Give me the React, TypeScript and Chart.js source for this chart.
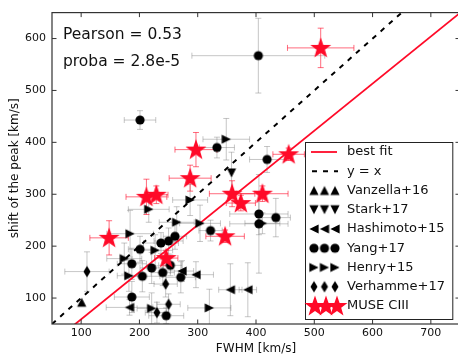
import React, { useEffect, useRef } from "react";
import { Chart, registerables } from "chart.js";

Chart.register(...registerables);

const FONT = "'DejaVu Sans', 'Liberation Sans', sans-serif";
const RED = "#ff0a28";
const TEXT = "#111111";

// axes
const X_MIN = 50;
const X_MAX = 750;
const Y_MIN = 50;
const Y_MAX = 650;
const xTicks = [100, 200, 300, 400, 500, 600, 700];
const yTicks = [100, 200, 300, 400, 500, 600];

// reference lines
const bestFitX = [50, 750];
const bestFitY = [13.7, 649.3];
const identityX = [50, 750];
const identityY = [50, 750];

// Vanzella+16
const vanzellaX = [101];
const vanzellaY = [92];
const vanzellaXErr = [0];
const vanzellaYErr = [0];

// Stark+17
const starkX = [358];
const starkY = [341];
const starkXErr = [0];
const starkYErr = [40];

// Hashimoto+15
const hashimotoX = [273, 297, 356, 386, 183];
const hashimotoY = [152, 145, 116, 116, 82];
const hashimotoXErr = [20, 30, 20, 15, 40];
const hashimotoYErr = [20, 25, 50, 52, 15];

// Yang+17
const yangX = [201, 404, 333, 419, 405, 405, 434, 322, 261, 250, 237, 201, 187, 221, 240, 253, 205, 271, 187, 246];
const yangY = [443, 567, 390, 367, 262, 243, 255, 230, 219, 210, 206, 194, 166, 158, 149, 163, 142, 140, 102, 66];
const yangXErr = [27, 114, 30, 30, 50, 50, 25, 20, 20, 25, 30, 20, 25, 20, 20, 20, 30, 25, 30, 30];
const yangYErr = [18, 72, 20, 25, 40, 95, 37, 20, 25, 25, 20, 25, 30, 30, 25, 20, 30, 30, 30, 15];

// Henry+15
const henryX = [349, 216, 184, 264, 287, 304, 227, 174, 182, 221, 320, 411];
const henryY = [406, 271, 224, 246, 289, 244, 192, 176, 143, 80, 81, 244];
const henryXErr = [40, 35, 40, 30, 30, 35, 30, 30, 20, 25, 37, 30];
const henryYErr = [40, 25, 45, 30, 30, 35, 30, 30, 30, 30, 36, 20];

// Verhamme+17
const verhammeX = [110, 245, 250, 230];
const verhammeY = [151, 127, 88, 72];
const verhammeXErr = [38, 20, 20, 20];
const verhammeYErr = [38, 25, 20, 20];

// MUSE CIII
const museX = [511, 297, 287, 212, 229, 359, 374, 411, 456, 148, 347, 246];
const museY = [582, 386, 331, 295, 299, 301, 283, 301, 377, 216, 219, 177];
const museXErr = [57, 36, 36, 35, 20, 39, 25, 44, 27, 33, 33, 20];
const museYErr = [38, 33, 25, 34, 17, 25, 15, 15, 12, 33, 12, 15];

const pearsonText = "Pearson = 0.53";
const probaText = "proba = 2.8e-5";

type Kind = "up" | "down" | "left" | "right" | "circle" | "diamond" | "star";

interface Series {
  label: string;
  kind: Kind;
  color: string;
  errColor: string;
  x: number[];
  y: number[];
  xe: number[];
  ye: number[];
}

const GREY_ERR = "rgba(120,120,120,0.42)";
const RED_ERR = "rgba(255,10,40,0.6)";

const SERIES: Series[] = [
  { label: "Vanzella+16", kind: "up", color: "#000", errColor: GREY_ERR, x: vanzellaX, y: vanzellaY, xe: vanzellaXErr, ye: vanzellaYErr },
  { label: "Stark+17", kind: "down", color: "#000", errColor: GREY_ERR, x: starkX, y: starkY, xe: starkXErr, ye: starkYErr },
  { label: "Hashimoto+15", kind: "left", color: "#000", errColor: GREY_ERR, x: hashimotoX, y: hashimotoY, xe: hashimotoXErr, ye: hashimotoYErr },
  { label: "Yang+17", kind: "circle", color: "#000", errColor: GREY_ERR, x: yangX, y: yangY, xe: yangXErr, ye: yangYErr },
  { label: "Henry+15", kind: "right", color: "#000", errColor: GREY_ERR, x: henryX, y: henryY, xe: henryXErr, ye: henryYErr },
  { label: "Verhamme+17", kind: "diamond", color: "#000", errColor: GREY_ERR, x: verhammeX, y: verhammeY, xe: verhammeXErr, ye: verhammeYErr },
  { label: "MUSE CIII", kind: "star", color: RED, errColor: RED_ERR, x: museX, y: museY, xe: museXErr, ye: museYErr },
];

function makeMarker(kind: Kind, color: string): HTMLCanvasElement {
  const size = kind === "star" ? 26 : 14;
  const c = document.createElement("canvas");
  c.width = size;
  c.height = size;
  const g = c.getContext("2d")!;
  const m = size / 2;
  const h = 4.6;
  g.fillStyle = color;
  g.beginPath();
  switch (kind) {
    case "circle":
      g.arc(m, m, 4.6, 0, Math.PI * 2);
      break;
    case "up":
      g.moveTo(m, m - h); g.lineTo(m + h, m + h); g.lineTo(m - h, m + h);
      break;
    case "down":
      g.moveTo(m, m + h); g.lineTo(m + h, m - h); g.lineTo(m - h, m - h);
      break;
    case "left":
      g.moveTo(m - h, m); g.lineTo(m + h, m - h); g.lineTo(m + h, m + h);
      break;
    case "right":
      g.moveTo(m + h, m); g.lineTo(m - h, m - h); g.lineTo(m - h, m + h);
      break;
    case "diamond":
      g.moveTo(m, m - 5.8); g.lineTo(m + 3.5, m); g.lineTo(m, m + 5.8); g.lineTo(m - 3.5, m);
      break;
    case "star": {
      const outer = 11;
      const inner = outer * 0.4;
      for (let i = 0; i < 10; i++) {
        const r = i % 2 === 0 ? outer : inner;
        const a = -Math.PI / 2 + (i * Math.PI) / 5;
        const px = m + r * Math.cos(a);
        const py = m + 0.5 + r * Math.sin(a);
        if (i === 0) g.moveTo(px, py); else g.lineTo(px, py);
      }
      break;
    }
  }
  g.closePath();
  g.fill();
  return c;
}

export default function App() {
  const ref = useRef<HTMLCanvasElement>(null);

  useEffect(() => {
    const canvas = ref.current;
    if (!canvas) return;
    const markers: Record<string, HTMLCanvasElement> = {};
    SERIES.forEach((s) => { markers[s.label] = makeMarker(s.kind, s.color); });

    const errorBars = {
      id: "errorBars",
      beforeDatasetsDraw(chart: any) {
        const { ctx, chartArea: a, scales } = chart;
        const xs = scales.x;
        const ys = scales.y;
        ctx.save();
        ctx.beginPath();
        ctx.rect(a.left, a.top, a.right - a.left, a.bottom - a.top);
        ctx.clip();
        ctx.lineWidth = 1;
        const cap = 3;
        const drawOrder = [...SERIES];
        for (const s of drawOrder) {
          ctx.strokeStyle = s.errColor;
          for (let i = 0; i < s.x.length; i++) {
            const px = xs.getPixelForValue(s.x[i]);
            const py = ys.getPixelForValue(s.y[i]);
            ctx.beginPath();
            if (s.xe[i] > 0) {
              const x0 = xs.getPixelForValue(s.x[i] - s.xe[i]);
              const x1 = xs.getPixelForValue(s.x[i] + s.xe[i]);
              ctx.moveTo(x0, py); ctx.lineTo(x1, py);
              ctx.moveTo(x0, py - cap); ctx.lineTo(x0, py + cap);
              ctx.moveTo(x1, py - cap); ctx.lineTo(x1, py + cap);
            }
            if (s.ye[i] > 0) {
              const y0 = ys.getPixelForValue(s.y[i] - s.ye[i]);
              const y1 = ys.getPixelForValue(s.y[i] + s.ye[i]);
              ctx.moveTo(px, y0); ctx.lineTo(px, y1);
              ctx.moveTo(px - cap, y0); ctx.lineTo(px + cap, y0);
              ctx.moveTo(px - cap, y1); ctx.lineTo(px + cap, y1);
            }
            ctx.stroke();
          }
        }
        ctx.restore();
      },
    };

    const decorations = {
      id: "decorations",
      afterDraw(chart: any) {
        const { ctx, chartArea: a, scales } = chart;
        const xs = scales.x;
        const ys = scales.y;
        ctx.save();
        // frame
        ctx.strokeStyle = "#333";
        ctx.lineWidth = 1.2;
        ctx.strokeRect(a.left, a.top, a.right - a.left, a.bottom - a.top);
        // inside ticks
        ctx.lineWidth = 1;
        ctx.beginPath();
        const tl = 4.5;
        for (const v of xTicks) {
          const px = xs.getPixelForValue(v);
          ctx.moveTo(px, a.bottom); ctx.lineTo(px, a.bottom - tl);
          ctx.moveTo(px, a.top); ctx.lineTo(px, a.top + tl);
        }
        for (const v of yTicks) {
          const py = ys.getPixelForValue(v);
          ctx.moveTo(a.left, py); ctx.lineTo(a.left + tl, py);
          ctx.moveTo(a.right, py); ctx.lineTo(a.right - tl, py);
        }
        ctx.stroke();

        // statistics text
        ctx.fillStyle = TEXT;
        ctx.font = `15.5px ${FONT}`;
        ctx.textBaseline = "alphabetic";
        ctx.textAlign = "left";
        ctx.fillText(pearsonText, a.left + 11, a.top + 26);
        ctx.fillText(probaText, a.left + 11, a.top + 53);

        // legend
        const lx0 = 305;
        const ly0 = 142;
        const lx1 = 453.3;
        const ly1 = 320;
        ctx.fillStyle = "#fff";
        ctx.fillRect(lx0, ly0, lx1 - lx0, ly1 - ly0);
        ctx.strokeStyle = "#222";
        ctx.lineWidth = 1;
        ctx.strokeRect(lx0 + 0.5, ly0 + 0.5, lx1 - lx0 - 1, ly1 - ly0 - 1);
        const step = 19.25;
        const firstY = 152;
        const textX = 347;
        ctx.font = `13px ${FONT}`;
        ctx.textBaseline = "middle";
        // best fit
        ctx.strokeStyle = RED;
        ctx.lineWidth = 1.8;
        ctx.beginPath();
        ctx.moveTo(311, firstY); ctx.lineTo(337, firstY);
        ctx.stroke();
        ctx.fillStyle = TEXT;
        ctx.fillText("best fit", textX, firstY);
        // y = x
        const y2 = firstY + step;
        ctx.strokeStyle = "#000";
        ctx.lineWidth = 2;
        ctx.setLineDash([5, 6]);
        ctx.beginPath();
        ctx.moveTo(312, y2); ctx.lineTo(338, y2);
        ctx.stroke();
        ctx.setLineDash([]);
        ctx.fillText("y = x", textX, y2);
        SERIES.forEach((s, i) => {
          const yy = firstY + step * (i + 2);
          const img = markers[s.label];
          const xsPos = s.kind === "star" ? [315, 326, 337] : [314, 324.5, 335];
          for (const xx of xsPos) {
            ctx.drawImage(img, xx - img.width / 2, yy - img.height / 2);
          }
          ctx.fillStyle = TEXT;
          ctx.fillText(s.label, textX, yy);
        });
        ctx.restore();
      },
    };

    const scatterSets = [...SERIES].reverse().map((s) => ({
      label: s.label,
      data: s.x.map((x, i) => ({ x, y: s.y[i] })),
      pointStyle: markers[s.label],
      pointRadius: 5,
      showLine: false,
    }));

    const chart = new Chart(canvas, {
      type: "scatter",
      data: {
        datasets: [
          ...scatterSets,
          {
            label: "best fit",
            data: bestFitX.map((x, i) => ({ x, y: bestFitY[i] })),
            showLine: true,
            borderColor: RED,
            borderWidth: 1.8,
            pointRadius: 0,
          },
          {
            label: "y = x",
            data: identityX.map((x, i) => ({ x, y: identityY[i] })),
            showLine: true,
            borderColor: "#000",
            borderWidth: 2,
            borderDash: [5, 6],
            pointRadius: 0,
          },
        ] as any,
      },
      options: {
        animation: false,
        responsive: false,
        devicePixelRatio: 1,
        events: [],
        layout: { padding: { left: 0, right: 10, top: 8, bottom: 0 } },
        plugins: {
          legend: { display: false },
          tooltip: { enabled: false },
        },
        scales: {
          x: {
            type: "linear",
            min: X_MIN,
            max: X_MAX,
            afterBuildTicks: (s: any) => { s.ticks = xTicks.map((v) => ({ value: v })); },
            afterFit: (s: any) => { s.height = 32; },
            grid: { display: false, drawTicks: false },
            border: { display: false },
            ticks: { font: { family: FONT, size: 11 }, color: TEXT, padding: 3, maxRotation: 0, autoSkip: false },
            title: { display: true, text: "FWHM [km/s]", font: { family: FONT, size: 12 }, color: TEXT, padding: { top: 0, bottom: 0 } },
          },
          y: {
            type: "linear",
            min: Y_MIN,
            max: Y_MAX,
            afterBuildTicks: (s: any) => { s.ticks = yTicks.map((v) => ({ value: v })); },
            afterFit: (s: any) => { s.width = 52; },
            grid: { display: false, drawTicks: false },
            border: { display: false },
            ticks: { font: { family: FONT, size: 11 }, color: TEXT, padding: 6, autoSkip: false },
            title: { display: true, text: "shift of the peak [km/s]", font: { family: FONT, size: 12 }, color: TEXT, padding: { top: 8, bottom: 0 } },
          },
        },
      },
      plugins: [errorBars, decorations],
    } as any);
    return () => chart.destroy();
  }, []);

  return (
    <div style={{ position: "fixed", left: 0, top: 0, width: 458, height: 356, overflow: "hidden", background: "#fff" }}>
      <canvas ref={ref} width={470} height={356} style={{ display: "block", width: 470, height: 356 }} />
    </div>
  );
}
